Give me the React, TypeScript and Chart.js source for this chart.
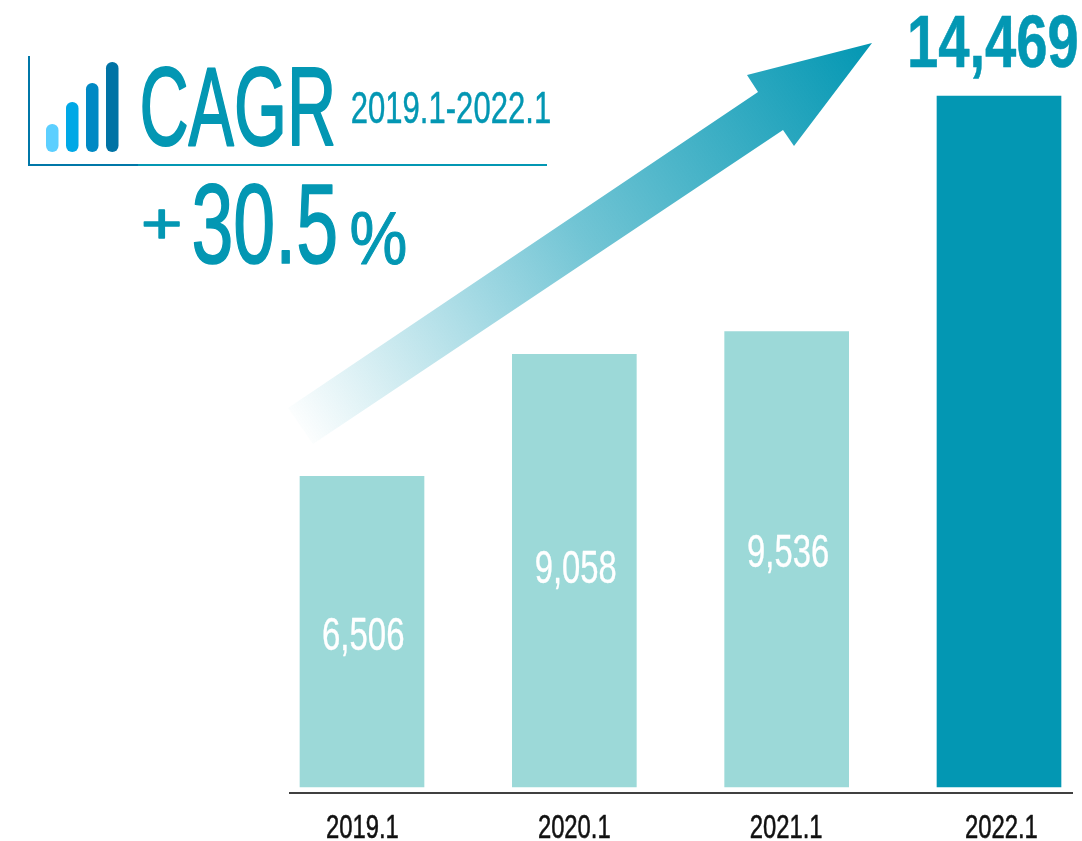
import React, { useEffect, useRef } from "react";
import { Chart, registerables } from "chart.js";

Chart.register(...registerables);

const categories = ["2019.1", "2020.1", "2021.1", "2022.1"];
const values = [6506, 9058, 9536, 14469];
const barColors = ["#9cd9d8", "#9cd9d8", "#9cd9d8", "#0397b3"];
const TEAL = "#0397b3";
const FONT = '"Liberation Sans Narrow", "Liberation Sans", sans-serif';
const AXIS_MAX = 16480;
const labelShift = [2, -4, -8];
const tickShift = [0.5, 0, -0.5, 2.5];

function fit(
  ctx: CanvasRenderingContext2D,
  text: string,
  x0: number,
  x1: number,
  top: number,
  baseline: number,
  color: string,
  weight = "normal",
  stroke = 0
) {
  ctx.save();
  ctx.font = `${weight} 100px ${FONT}`;
  ctx.textAlign = "left";
  ctx.textBaseline = "alphabetic";
  const m = ctx.measureText(text);
  const ref = ctx.measureText("0");
  const sx = (x1 - x0 - stroke) / (m.actualBoundingBoxLeft + m.actualBoundingBoxRight);
  const sy = (baseline - top - stroke) / ref.actualBoundingBoxAscent;
  ctx.translate(x0 + stroke / 2, baseline - stroke / 2);
  ctx.scale(sx, sy);
  ctx.fillStyle = color;
  ctx.fillText(text, m.actualBoundingBoxLeft, 0);
  if (stroke > 0) {
    ctx.strokeStyle = color;
    ctx.lineJoin = "round";
    ctx.lineWidth = stroke / ((sx + sy) / 2);
    ctx.strokeText(text, m.actualBoundingBoxLeft, 0);
  }
  ctx.restore();
}

const overlay = {
  id: "overlay",
  afterDatasetsDraw(chart: any) {
    const ctx: CanvasRenderingContext2D = chart.ctx;
    const x = chart.scales.x;
    const y = chart.scales.y;

    // axis line
    ctx.save();
    ctx.strokeStyle = "#000";
    ctx.lineWidth = 1.3;
    ctx.beginPath();
    ctx.moveTo(289, 793);
    ctx.lineTo(1073, 793);
    ctx.stroke();

    // arrow
    const g = ctx.createLinearGradient(290, 425, 871, 43);
    g.addColorStop(0, "rgba(3,151,179,0)");
    g.addColorStop(0.5, "rgba(3,151,179,0.56)");
    g.addColorStop(1, "rgba(3,151,179,1)");
    ctx.fillStyle = g;
    ctx.beginPath();
    ctx.moveTo(288, 408);
    ctx.lineTo(758, 92);
    ctx.lineTo(747, 75);
    ctx.lineTo(872, 43);
    ctx.lineTo(794, 146);
    ctx.lineTo(783, 130);
    ctx.lineTo(313, 444);
    ctx.closePath();
    ctx.fill();

    // CAGR frame
    ctx.fillStyle = "#0077a8";
    ctx.fillRect(28, 56, 2, 110);
    ctx.fillRect(28, 164, 110, 2);
    ctx.fillStyle = TEAL;
    ctx.fillRect(138, 164, 409, 2);

    // icon
    const icon: [number, number, string][] = [
      [46, 124, "#5ccfff"],
      [66, 102, "#00a8e6"],
      [86, 83, "#0089c4"],
      [106, 62, "#0073a5"],
    ];
    icon.forEach(([ix, top, c]) => {
      ctx.fillStyle = c;
      ctx.beginPath();
      (ctx as any).roundRect(ix, top, 12.5, 152 - top, 6.2);
      ctx.fill();
    });
    ctx.restore();

    fit(ctx, "CAGR", 142, 334, 66, 146, TEAL, "normal", 1.6);
    fit(ctx, "2019.1-2022.1", 352, 550, 91, 123, TEAL, "normal", 0.4);
    fit(ctx, "+", 143, 180, 203, 244, TEAL, "normal", 1.5);
    fit(ctx, "30.5", 193, 336, 184, 264, TEAL, "normal", 1.4);
    fit(ctx, "%", 351, 406, 211, 264, TEAL, "normal", 1);

    // value labels
    values.forEach((v, i) => {
      const text = v.toLocaleString("en-US");
      const cx = x.getPixelForValue(i);
      if (i === 3) {
        fit(ctx, text, 910, 1077, 14, 67, TEAL, "bold", 0.5);
      } else {
        const mid = (y.getPixelForValue(v) + y.getPixelForValue(0)) / 2 + labelShift[i];
        fit(ctx, text, cx - 38.5, cx + 41.5, mid - 17, mid + 16, "#fff", "normal", 0.3);
      }
    });

    // category labels
    categories.forEach((c, i) => {
      const cx = x.getPixelForValue(i) + tickShift[i];
      fit(ctx, c, cx - 35.5, cx + 35.5, 814, 838, "#111", "normal", 0.5);
    });
  },
};

export default function App() {
  const ref = useRef<HTMLCanvasElement>(null);
  useEffect(() => {
    const chart = new Chart(ref.current!, {
      type: "bar",
      data: {
        labels: categories,
        datasets: [
          {
            data: values,
            backgroundColor: barColors,
            barThickness: 124,
            clip: false,
          } as any,
        ],
      },
      options: {
        animation: false,
        responsive: false,
        layout: { padding: { left: 362, right: 83, top: 0, bottom: 54 } },
        plugins: { legend: { display: false }, tooltip: { enabled: false } },
        scales: {
          x: { display: false, offset: false, grid: { display: false } },
          y: { display: false, min: 0, max: AXIS_MAX, grid: { display: false } },
        },
      },
      plugins: [overlay],
    });
    return () => chart.destroy();
  }, []);
  return (
    <div style={{ position: "absolute", left: 0, top: 0, width: 1082, height: 841, overflow: "hidden", background: "#fff" }}>
      <canvas ref={ref} width={1082} height={841} style={{ display: "block" }} />
    </div>
  );
}
